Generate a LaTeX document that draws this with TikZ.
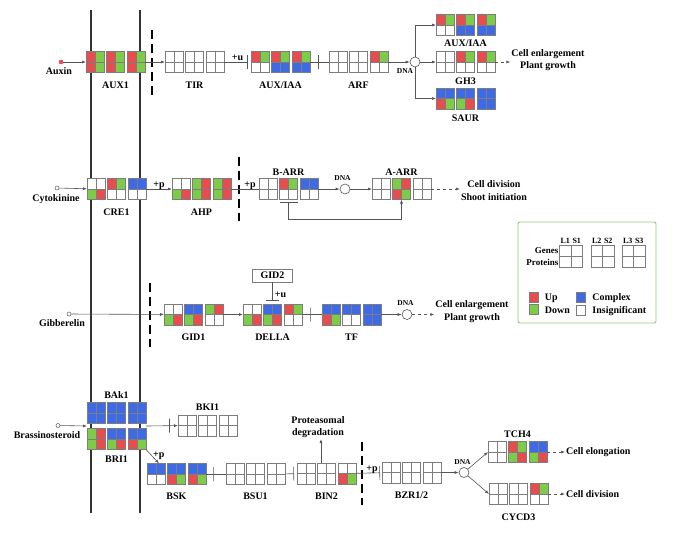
\documentclass[tikz,border=0pt]{standalone}
\usepackage{fontspec}
\setmainfont{Liberation Serif}
\usetikzlibrary{arrows.meta}
\usetikzlibrary{positioning}
\usetikzlibrary{calc}

\definecolor{upreg}{RGB}{232,76,78}
\definecolor{downreg}{RGB}{124,204,74}
\definecolor{cplx}{RGB}{62,106,230}
\definecolor{insig}{RGB}{255,255,255}
\definecolor{boxgray}{RGB}{125,125,125}
\definecolor{connc}{RGB}{85,85,85}
\definecolor{lggreen}{RGB}{150,200,120}

\tikzset{
  gene/.style={minimum width=18pt, minimum height=21pt, inner sep=0pt, outer sep=0pt},
  cellline/.style={draw=boxgray, line width=0.5pt},
  conn/.style={draw=connc, line width=0.6pt},
  ibar/.style={draw=connc, line width=0.6pt, minimum width=0pt, minimum height=14pt, inner sep=0pt},
  dna/.style={circle, draw=connc, fill=white, line width=0.6pt, minimum size=10pt, inner sep=0pt},
  sig/.style={circle, draw=connc, fill=white, line width=0.5pt, minimum size=4pt, inner sep=0pt},
  lbl/.style={font=\bfseries\fontsize{10}{12}\selectfont, inner sep=1pt, text height=7pt, text depth=0pt},
  outc/.style={font=\bfseries\fontsize{10}{12.5}\selectfont, align=center, inner sep=1pt},
  dnal/.style={font=\bfseries\fontsize{7.5}{8}\selectfont, inner sep=0.5pt},
  lgtext/.style={font=\bfseries\fontsize{8}{9}\selectfont, inner sep=0.5pt},
  lgrow/.style={font=\bfseries\fontsize{9}{10}\selectfont, inner sep=1pt},
  lgkey/.style={draw=boxgray, minimum width=9pt, minimum height=10pt, inner sep=0pt},
  membrane/.style={line width=2pt, draw=black!80},
  wall/.style={line width=1.8pt, dash pattern=on 9pt off 5pt},
  >={Latex[length=4pt,width=3pt]}
}

\newcommand{\gbox}[6]{%
  \node[gene,#2] (#1) {};
  \fill[#3] (#1.north west) rectangle (#1.center);
  \fill[#4] (#1.north east) rectangle (#1.center);
  \fill[#5] (#1.south west) rectangle (#1.center);
  \fill[#6] (#1.south east) rectangle (#1.center);
  \draw[cellline] (#1.north) -- (#1.south) (#1.west) -- (#1.east)
    (#1.north west) rectangle (#1.south east);
}

\begin{document}
\begin{tikzpicture}[x=1pt,y=-1pt]
\useasboundingbox (0,0) rectangle (700,533);

\draw[membrane] (91,10) -- (91,513);
\draw[membrane] (140,10) -- (140,513);
\draw[wall] (152,30) -- (152,95);
\draw[wall] (239,157) -- (239,221);
\draw[wall] (150,283) -- (150,347);
\draw[wall] (362,442) -- (362,505);

\node[sig, fill=upreg, draw=upreg] (auxin) at (61,62) {};
\node[lbl, below=2.5pt of auxin, xshift=-2pt] {Auxin};
\gbox{auxa}{at={(95,62)}}{upreg}{downreg}{upreg}{downreg}
\gbox{auxb}{right=2.5pt of auxa}{upreg}{downreg}{upreg}{downreg}
\gbox{auxc}{right=2.5pt of auxb}{upreg}{downreg}{upreg}{downreg}
\node[lbl, below=7.5pt of auxb] {AUX1};
\gbox{tira}{at={(174,62)}}{insig}{insig}{insig}{insig}
\gbox{tirb}{right=2.5pt of tira}{insig}{insig}{insig}{insig}
\gbox{tirc}{right=2.5pt of tirb}{insig}{insig}{insig}{insig}
\node[lbl, below=7.5pt of tirb] {TIR};
\gbox{iaaa}{at={(260,62)}}{upreg}{downreg}{insig}{insig}
\gbox{iaab}{right=2.5pt of iaaa}{upreg}{downreg}{cplx}{cplx}
\gbox{iaac}{right=2.5pt of iaab}{upreg}{downreg}{cplx}{cplx}
\node[lbl, below=7.5pt of iaab] {AUX/IAA};
\gbox{arfa}{at={(338,62)}}{insig}{insig}{insig}{insig}
\gbox{arfb}{right=2.5pt of arfa}{insig}{insig}{insig}{insig}
\gbox{arfc}{right=2.5pt of arfb}{upreg}{downreg}{insig}{insig}
\node[lbl, below=7.5pt of arfb] {ARF};
\node[dna] (dnaa) at (415,62) {};
\node[dnal] at (405,71) {DNA};
\gbox{raia}{at={(445,25)}}{upreg}{downreg}{insig}{insig}
\gbox{raib}{right=2.5pt of raia}{upreg}{downreg}{cplx}{cplx}
\gbox{raic}{right=2.5pt of raib}{upreg}{downreg}{cplx}{cplx}
\node[lbl, below=3pt of raib] {AUX/IAA};
\gbox{gha}{at={(445,62)}}{insig}{insig}{insig}{insig}
\gbox{ghb}{right=2.5pt of gha}{upreg}{downreg}{insig}{insig}
\gbox{ghc}{right=2.5pt of ghb}{upreg}{downreg}{insig}{insig}
\node[lbl, below=3.5pt of ghb] {GH3};
\gbox{saura}{at={(445,98.5)}}{cplx}{cplx}{upreg}{downreg}
\gbox{saurb}{right=2.5pt of saura}{cplx}{cplx}{downreg}{upreg}
\gbox{saurc}{right=2.5pt of saurb}{cplx}{cplx}{cplx}{cplx}
\node[lbl, below=4pt of saurb] {SAUR};
\node[outc] (growa) at (548,60) {Cell enlargement\\Plant growth};

\draw[conn,->] (auxin) -- (auxa);
\draw[conn,->] (auxc) -- (tira);
\draw[conn,-{Bar[width=14pt]},shorten >=3pt] (tirc) -- node[lbl,above]{+u} (iaaa);
\draw[conn] (iaac) -- node[ibar,pos=0.45]{} (arfa);
\draw[conn,->] (arfc) -- (dnaa);
\draw[conn,->] (dnaa.north) |- (raia.west);
\draw[conn,->] (dnaa) -- (gha);
\draw[conn,->] (dnaa.south) |- (saura.west);
\draw[conn,dashed,->] (ghc) -- (ghc -| growa.west);

\node[sig] (cyto) at (57,188) {};
\node[lbl, below=3pt of cyto, xshift=-1pt] {Cytokinine};
\gbox{crea}{at={(96,189)}}{insig}{insig}{downreg}{upreg}
\gbox{creb}{right=2.5pt of crea}{upreg}{downreg}{insig}{insig}
\gbox{crec}{right=2.5pt of creb}{cplx}{cplx}{insig}{insig}
\node[lbl, below=7.5pt of creb] {CRE1};
\gbox{ahpa}{at={(181,189)}}{insig}{insig}{downreg}{upreg}
\gbox{ahpb}{right=2.5pt of ahpa}{downreg}{upreg}{downreg}{upreg}
\gbox{ahpc}{right=2.5pt of ahpb}{downreg}{upreg}{downreg}{upreg}
\node[lbl, below=7.5pt of ahpb] {AHP};
\gbox{barra}{at={(268,189)}}{insig}{insig}{insig}{insig}
\gbox{barrb}{right=2.5pt of barra}{upreg}{downreg}{insig}{insig}
\gbox{barrc}{right=2.5pt of barrb}{cplx}{cplx}{insig}{insig}
\node[lbl, above=2pt of barrb] {B-ARR};
\node[dna] (dnab) at (345,189) {};
\node[dnal] at (342.5,178) {DNA};
\gbox{aarra}{at={(381,189)}}{insig}{insig}{insig}{insig}
\gbox{aarrb}{right=2.5pt of aarra}{downreg}{upreg}{upreg}{downreg}
\gbox{aarrc}{right=2.5pt of aarrb}{insig}{insig}{insig}{insig}
\node[lbl, above=2pt of aarrb] {A-ARR};
\node[outc] (cdiva) at (494,190.5) {Cell division\\Shoot initiation};

\draw[conn,->] (cyto) -- (crea);
\draw[conn,->] (crec) -- node[lbl,above]{+p} (ahpa);
\draw[conn] (ahpc) -- node[lbl,above,pos=0.68]{+p} (barra);
\draw[conn,->] (barrc) -- (dnab);
\draw[conn,->] (dnab) -- (aarra);
\draw[conn,dashed,->] (aarrc) -- (aarrc -| cdiva.west);
\draw[conn,{Bar[width=18pt]}->] ([yshift=-2pt]barrb.south) -- ++(0,18) -| (aarrb.south);

\node[sig] (gibb) at (69,314) {};
\node[lbl, below=2pt of gibb, xshift=-7pt] {Gibberelin};
\gbox{gida}{at={(173,314.5)}}{insig}{insig}{downreg}{upreg}
\gbox{gidb}{right=2.5pt of gida}{cplx}{cplx}{downreg}{upreg}
\gbox{gidc}{right=2.5pt of gidb}{downreg}{upreg}{insig}{insig}
\node[lbl, below=7.5pt of gidb] {GID1};
\gbox{dellaa}{at={(252,314.5)}}{insig}{insig}{downreg}{upreg}
\gbox{dellab}{right=2.5pt of dellaa}{cplx}{cplx}{downreg}{upreg}
\gbox{dellac}{right=2.5pt of dellab}{upreg}{downreg}{insig}{insig}
\node[lbl, below=7.5pt of dellab] {DELLA};
\node[draw=boxgray, line width=0.6pt, minimum width=40pt, minimum height=13pt, inner sep=0pt,
  font=\bfseries\fontsize{10}{12}\selectfont] (gid2) at (272.5,275.5) {GID2};
\gbox{tfa}{at={(331,314.5)}}{cplx}{cplx}{upreg}{downreg}
\gbox{tfb}{right=2.5pt of tfa}{cplx}{cplx}{insig}{insig}
\gbox{tfc}{right=2.5pt of tfb}{cplx}{cplx}{cplx}{cplx}
\node[lbl, below=7.5pt of tfb] {TF};
\node[dna] (dnac) at (407,314.5) {};
\node[dnal] at (405.5,303) {DNA};
\node[outc] (growb) at (472,311.5) {Cell enlargement\\Plant growth};

\draw[conn,->] (gibb) -- (gida);
\draw[conn,->] (gidc) -- (dellaa);
\draw[conn,-{Bar[width=13pt]},shorten >=3pt] (gid2) -- node[lbl,right,pos=0.55,xshift=1pt]{+u} (gid2 |- dellab.north);
\draw[conn] (dellac) -- node[ibar,pos=0.4]{} (tfa);
\draw[conn,->] (tfc) -- (dnac);
\draw[conn,dashed,->] (dnac) -- (dnac -| growb.west);

\node[sig] (brass) at (58,425.5) {};
\node[lbl, below=3pt of brass, xshift=-11pt] {Brassinosteroid};
\gbox{baka}{at={(96,413)}}{cplx}{cplx}{cplx}{cplx}
\gbox{bakb}{right=2.5pt of baka}{cplx}{cplx}{cplx}{cplx}
\gbox{bakc}{right=2.5pt of bakb}{cplx}{cplx}{cplx}{cplx}
\node[lbl, above=3pt of bakb] {BAk1};
\gbox{bria}{below=5pt of baka}{downreg}{upreg}{downreg}{upreg}
\gbox{brib}{below=5pt of bakb}{cplx}{cplx}{downreg}{upreg}
\gbox{bric}{below=5pt of bakc}{cplx}{cplx}{upreg}{downreg}
\node[lbl, below=5pt of brib] {BRI1};
\coordinate (brin) at ($(baka.south west)!0.5!(bria.north west)$);
\coordinate (brout) at ($(bakc.south east)!0.5!(bric.north east)$);
\gbox{bkia}{at={(187,425.5)}}{insig}{insig}{insig}{insig}
\gbox{bkib}{right=2.5pt of bkia}{insig}{insig}{insig}{insig}
\gbox{bkic}{right=2.5pt of bkib}{insig}{insig}{insig}{insig}
\node[lbl, above=3pt of bkib] {BKI1};
\gbox{bska}{at={(156,474)}}{cplx}{cplx}{insig}{insig}
\gbox{bskb}{right=2.5pt of bska}{cplx}{cplx}{upreg}{downreg}
\gbox{bskc}{right=2.5pt of bskb}{cplx}{cplx}{upreg}{downreg}
\node[lbl, below=6.5pt of bskb] {BSK};
\gbox{bsua}{at={(235,474)}}{insig}{insig}{insig}{insig}
\gbox{bsub}{right=2.5pt of bsua}{insig}{insig}{insig}{insig}
\gbox{bsuc}{right=2.5pt of bsub}{insig}{insig}{insig}{insig}
\node[lbl, below=6.5pt of bsub] {BSU1};
\gbox{bina}{at={(306,473.5)}}{insig}{insig}{insig}{insig}
\gbox{binb}{right=2.5pt of bina}{insig}{insig}{insig}{insig}
\gbox{binc}{right=2.5pt of binb}{insig}{insig}{upreg}{downreg}
\node[lbl, below=7pt of binb] {BIN2};
\node[outc] (prot) at (318,427) {Proteasomal\\degradation};
\gbox{bzra}{at={(391,472.5)}}{insig}{insig}{insig}{insig}
\gbox{bzrb}{right=2.5pt of bzra}{insig}{insig}{insig}{insig}
\gbox{bzrc}{right=2.5pt of bzrb}{insig}{insig}{insig}{insig}
\node[lbl, below=7.5pt of bzrb] {BZR1/2};
\node[dna] (dnad) at (464,472.5) {};
\node[dnal] at (462.5,462) {DNA};
\gbox{tcha}{at={(497,452)}}{insig}{insig}{insig}{insig}
\gbox{tchb}{right=2.5pt of tcha}{upreg}{downreg}{downreg}{upreg}
\gbox{tchc}{right=2.5pt of tchb}{cplx}{cplx}{downreg}{upreg}
\node[lbl, above=2.5pt of tchb] {TCH4};
\gbox{cyca}{at={(498,494)}}{insig}{insig}{insig}{insig}
\gbox{cycb}{right=2.5pt of cyca}{insig}{insig}{insig}{insig}
\gbox{cycc}{right=2.5pt of cycb}{upreg}{downreg}{insig}{insig}
\node[lbl, below=7.5pt of cycb] {CYCD3};
\node[outc, anchor=west] (elong) at (565,452) {Cell elongation};
\node[outc, anchor=west] (cdivb) at (565,494) {Cell division};

\draw[conn,->] (brass) -- (brin);
\draw[conn,->] (brout) -- node[ibar,pos=0.73]{} (bkia);
\draw[conn,->] (bric.south east) -- node[lbl,right,pos=0.3,xshift=2pt]{+p} ([xshift=3pt]bska.north);
\draw[conn] (bskc) -- node[ibar,pos=0.35]{} (bsua);
\draw[conn,-{Bar[width=14pt]},shorten >=3pt] (bsuc) -- (bina);
\draw[conn,->] ([xshift=-5.5pt]binb.north) -- ([xshift=-5.5pt]binb.north |- prot.south);
\draw[conn,-{Bar[width=14pt]},shorten >=2pt] (binc) -- node[lbl,above,pos=0.62]{+p} (bzra);
\draw[conn,->] (bzrc) -- (dnad);
\draw[conn,->] (dnad) -- (tcha.west);
\draw[conn,->] (dnad) -- (cyca.west);
\draw[conn,dashed,->] (tchc) -- (elong);
\draw[conn,dashed,->] (cycc) -- (cdivb);

\draw[draw=lggreen, line width=0.9pt, rounded corners=2pt] (518,222) rectangle (656,323);
\gbox{lga}{minimum width=23pt, minimum height=22pt, at={(571,256.5)}}{insig}{insig}{insig}{insig}
\gbox{lgb}{minimum width=23pt, minimum height=22pt, at={(602.5,256.5)}}{insig}{insig}{insig}{insig}
\gbox{lgc}{minimum width=23pt, minimum height=22pt, at={(633.5,256.5)}}{insig}{insig}{insig}{insig}
\foreach \b/\n in {lga/1,lgb/2,lgc/3} {
  \node[lgtext, anchor=south] at ([xshift=-5.75pt,yshift=1.5pt]\b.north) {L\n};
  \node[lgtext, anchor=south] at ([xshift=5.75pt,yshift=1.5pt]\b.north) {S\n};
}
\node[lgrow, anchor=east] at ([yshift=5.5pt]lga.west) {Genes};
\node[lgrow, anchor=east] at ([yshift=-5.5pt]lga.west) {Proteins};
\node[lgkey, fill=upreg] (kup) at (534,297) {};
\node[lbl, right=5pt of kup] {Up};
\node[lgkey, fill=downreg] (kdown) at (534,309.5) {};
\node[lbl, right=5pt of kdown] {Down};
\node[lgkey, fill=cplx] (kcplx) at (581,297) {};
\node[lbl, right=5.5pt of kcplx] {Complex};
\node[lgkey, fill=insig] (kins) at (581,310) {};
\node[lbl, right=5.5pt of kins] {Insignificant};
\end{tikzpicture}
\end{document}
